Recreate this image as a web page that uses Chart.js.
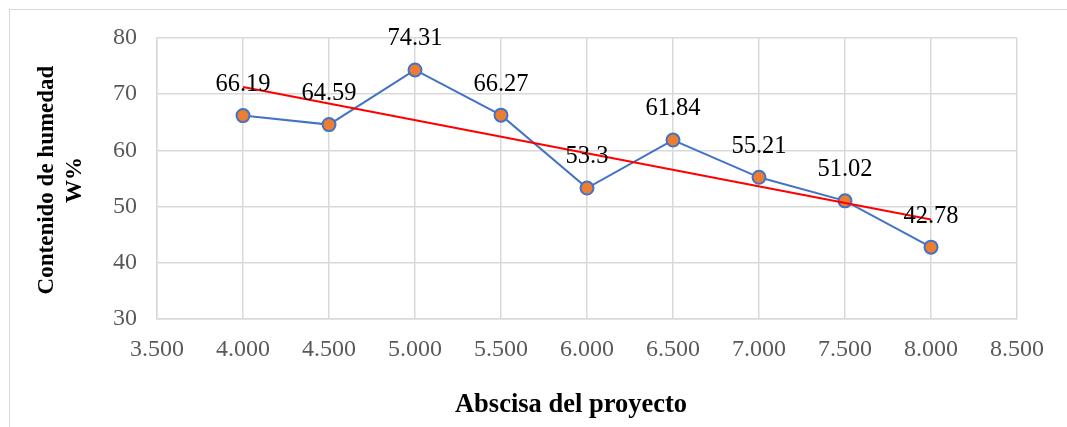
<!DOCTYPE html>
<html>
<head>
<meta charset="utf-8">
<script src="https://cdn.jsdelivr.net/npm/chart.js@4/dist/chart.umd.min.js"></script>
<style>
  html, body { margin: 0; padding: 0; background: #fff; }
  #wrap { width: 1067px; height: 427px; position: relative; overflow: hidden; }
  canvas { display: block; }
</style>
</head>
<body>
<div id="wrap"><canvas id="c" width="1067" height="427"></canvas></div>
<script>
// Abscissa (km) and measured moisture content W%
const abscisas = [4.0, 4.5, 5.0, 5.5, 6.0, 6.5, 7.0, 7.5, 8.0];
const humedad = [66.19, 64.59, 74.31, 66.27, 53.3, 61.84, 55.21, 51.02, 42.78];
const xTitle = 'Abscisa del proyecto';
const yTitle = ['Contenido de humedad', 'W%'];

// Linear least-squares trend through the measurements
function tendencia(xs, ys) {
  const n = xs.length;
  const mx = xs.reduce((a, b) => a + b, 0) / n;
  const my = ys.reduce((a, b) => a + b, 0) / n;
  let sxy = 0, sxx = 0;
  for (let i = 0; i < n; i++) {
    sxy += (xs[i] - mx) * (ys[i] - my);
    sxx += (xs[i] - mx) * (xs[i] - mx);
  }
  const m = sxy / sxx, b = my - m * mx;
  const x0 = xs[0], x1 = xs[n - 1];
  return [{ x: x0, y: m * x0 + b }, { x: x1, y: m * x1 + b }];
}

const puntos = abscisas.map((x, i) => ({ x: x, y: humedad[i] }));
const lineaTendencia = tendencia(abscisas, humedad);

const SERIF = '"Liberation Serif", "Times New Roman", serif';
const GRID = '#D9D9D9';

// Outer frame, value labels and axis titles
const decoracion = {
  id: 'decoracion',
  beforeDraw(chart) {
    const ctx = chart.ctx;
    ctx.save();
    ctx.fillStyle = '#fff';
    ctx.fillRect(0, 0, chart.width, chart.height);
    ctx.strokeStyle = GRID;
    ctx.lineWidth = 1;
    ctx.strokeRect(9.5, 9.5, 2000, 2000);
    ctx.restore();
  },
  afterDatasetsDraw(chart) {
    const ctx = chart.ctx;
    const meta = chart.getDatasetMeta(0);
    ctx.save();
    ctx.fillStyle = '#000';
    ctx.font = '24.5px ' + SERIF;
    ctx.textAlign = 'center';
    ctx.textBaseline = 'middle';
    meta.data.forEach((pt, i) => {
      ctx.fillText(String(humedad[i]), pt.x, pt.y - 31);
    });
    // axis titles
    ctx.font = 'bold 26.5px ' + SERIF;
    ctx.fillText(xTitle, 571, 405);
    ctx.font = 'bold 23px ' + SERIF;
    ctx.translate(0, 180);
    ctx.rotate(-Math.PI / 2);
    ctx.fillText(yTitle[0], 0, 47);
    ctx.fillText(yTitle[1], 0, 75);
    ctx.restore();
  }
};

new Chart(document.getElementById('c'), {
  type: 'scatter',
  data: {
    datasets: [
      {
        data: puntos,
        showLine: true,
        borderColor: '#4472C4',
        borderWidth: 2,
        pointRadius: 6.5,
        pointHoverRadius: 6.5,
        pointBorderWidth: 2,
        pointBackgroundColor: '#ED7D31',
        pointBorderColor: '#4472C4',
        order: 2
      },
      {
        data: lineaTendencia,
        showLine: true,
        borderColor: '#FF0000',
        borderWidth: 2,
        pointRadius: 0,
        order: 1
      }
    ]
  },
  options: {
    responsive: false,
    animation: false,
    events: [],
    layout: { padding: { left: 0, top: 38, right: 50, bottom: 0 } },
    plugins: { legend: { display: false }, tooltip: { enabled: false } },
    scales: {
      x: {
        type: 'linear',
        min: 3.5,
        max: 8.5,
        afterFit(s) { s.height = 108; },
        ticks: {
          stepSize: 0.5,
          padding: 16,
          color: '#595959',
          font: { family: SERIF, size: 24 },
          callback: v => Number(v).toFixed(3)
        },
        grid: { color: GRID, lineWidth: 1.5, drawTicks: false },
        border: { color: GRID, width: 1.5 }
      },
      y: {
        min: 30,
        max: 80,
        afterFit(s) { s.width = 157; },
        ticks: {
          stepSize: 10,
          padding: 20,
          color: '#595959',
          font: { family: SERIF, size: 24 }
        },
        grid: { color: GRID, lineWidth: 1.5, drawTicks: false },
        border: { color: GRID, width: 1.5 }
      }
    }
  },
  plugins: [decoracion]
});
</script>
</body>
</html>
